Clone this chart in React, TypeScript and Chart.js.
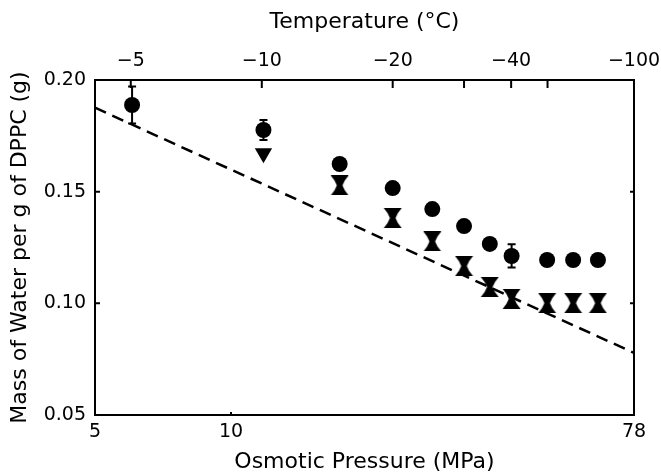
import React, { useEffect, useRef } from 'react';
import { Chart, registerables } from 'chart.js';

Chart.register(...registerables);

// Osmotic pressure (MPa) of each measurement (temperatures -5 ... -70 °C)
const pressures = [6.04, 11.8, 17.4, 22.8, 27.9, 32.8, 37.4, 41.8, 50.1, 57.2, 64.9];
const circleValues = [0.1888, 0.1776, 0.1624, 0.1516, 0.1422, 0.1346, 0.1266, 0.1212, 0.1194, 0.1194, 0.1194];
const circleErrors = [0.0083, 0.0045, 0, 0, 0, 0, 0, 0.0052, 0, 0, 0];
const triangleX = [11.8];
const triangleValues = [0.1672];
const hourglassX = [17.4, 22.8, 27.9, 32.8, 37.4, 41.8, 50.1, 57.2, 64.9];
const hourglassValues = [0.1528, 0.1382, 0.1277, 0.1167, 0.1073, 0.102, 0.1001, 0.1001, 0.1001];
const fitX = [5, 78];
const fitValues = [0.1876, 0.0778];

const pressureTicks = [5, 10, 78];
const valueTicks = [0.05, 0.1, 0.15, 0.2];
const temperatureTickPressures = [6.0, 11.7, 22.8, 32.8, 41.7, 50.2, 78];
const temperatureTickLabels = ['−5', '−10', '−20', '', '−40', '', '−100'];

function makeHourglass(): HTMLCanvasElement {
  const c = document.createElement('canvas');
  c.width = 19;
  c.height = 20;
  const g = c.getContext('2d')!;
  g.fillStyle = '#000';
  g.beginPath();
  g.moveTo(0.5, 0);
  g.lineTo(18.5, 0);
  g.quadraticCurveTo(14, 5, 12.3, 10);
  g.quadraticCurveTo(14, 15, 18.5, 20);
  g.lineTo(0.5, 20);
  g.quadraticCurveTo(5, 15, 6.7, 10);
  g.quadraticCurveTo(5, 5, 0.5, 0);
  g.closePath();
  g.fill();
  return c;
}

const framePlugin = {
  id: 'frameTicks',
  beforeDatasetsDraw(chart: any) {
    const { ctx, scales } = chart;
    const x = scales.x;
    const y = scales.y;
    ctx.save();
    ctx.strokeStyle = '#000';
    ctx.lineWidth = 2;
    circleValues.forEach((v, i) => {
      const e = circleErrors[i];
      if (!e) return;
      const px = x.getPixelForValue(pressures[i]);
      const top = y.getPixelForValue(v + e);
      const bot = y.getPixelForValue(v - e);
      ctx.beginPath();
      ctx.moveTo(px, top);
      ctx.lineTo(px, bot);
      ctx.moveTo(px - 4, top);
      ctx.lineTo(px + 4, top);
      ctx.moveTo(px - 4, bot);
      ctx.lineTo(px + 4, bot);
      ctx.stroke();
    });
    ctx.restore();
  },
  afterDraw(chart: any) {
    const { ctx, chartArea, scales } = chart;
    const { left, right, top, bottom } = chartArea;
    ctx.save();
    ctx.strokeStyle = '#000';
    ctx.lineWidth = 2;
    ctx.strokeRect(left, top, right - left, bottom - top);
    ctx.beginPath();
    temperatureTickPressures.forEach((p) => {
      const px = scales.x2.getPixelForValue(p);
      ctx.moveTo(px, top);
      ctx.lineTo(px, top + 8);
    });
    pressureTicks.forEach((p) => {
      const px = scales.x.getPixelForValue(p);
      ctx.moveTo(px, bottom);
      ctx.lineTo(px, bottom - 3);
    });
    valueTicks.forEach((v) => {
      const py = scales.y.getPixelForValue(v);
      ctx.moveTo(left, py);
      ctx.lineTo(left + 5, py);
      ctx.moveTo(right, py);
      ctx.lineTo(right - 4, py);
    });
    ctx.stroke();
    ctx.restore();
  },
};

export default function App() {
  const ref = useRef<HTMLCanvasElement | null>(null);

  useEffect(() => {
    if (!ref.current) return;
    Chart.defaults.font.family = "'DejaVu Sans', sans-serif";
    Chart.defaults.color = '#000';
    const hourglass = makeHourglass();

    const fixH = (h: number) => (s: any) => {
      s.height = h;
      s.paddingLeft = 0;
      s.paddingRight = 0;
      s.paddingTop = 0;
      s.paddingBottom = 0;
    };

    const chart = new Chart(ref.current, {
      type: 'scatter',
      data: {
        datasets: [
          {
            label: 'circles',
            data: pressures.map((p, i) => ({ x: p, y: circleValues[i] })),
            pointStyle: 'circle',
            pointRadius: 8,
            backgroundColor: '#000',
            borderColor: '#000',
            borderWidth: 0,
            showLine: false,
          },
          {
            label: 'triangle',
            data: triangleX.map((p, i) => ({ x: p, y: triangleValues[i] })),
            pointStyle: 'triangle',
            rotation: 180,
            pointRadius: 10,
            backgroundColor: '#000',
            borderColor: '#000',
            borderWidth: 0,
            showLine: false,
          },
          {
            label: 'hourglass',
            data: hourglassX.map((p, i) => ({ x: p, y: hourglassValues[i] })),
            pointStyle: hourglass as any,
            pointRadius: 9,
            backgroundColor: '#000',
            borderWidth: 0,
            showLine: false,
          },
          {
            label: 'fit',
            data: fitX.map((p, i) => ({ x: p, y: fitValues[i] })),
            showLine: true,
            borderColor: '#000',
            borderWidth: 2.5,
            borderDash: [12, 7],
            pointRadius: 0,
            fill: false,
          },
        ],
      },
      options: {
        responsive: false,
        animation: false,
        layout: { padding: { left: 0, top: 0, right: 27, bottom: 0 } },
        plugins: { legend: { display: false }, tooltip: { enabled: false } },
        scales: {
          x: {
            type: 'logarithmic',
            position: 'bottom',
            min: 5,
            max: 78,
            afterBuildTicks: (s: any) => {
              s.ticks = pressureTicks.map((v) => ({ value: v }));
            },
            afterFit: fixH(61),
            grid: { display: false, drawTicks: false },
            border: { display: false },
            ticks: {
              autoSkip: false,
              maxRotation: 0,
              padding: 6,
              font: { size: 19 },
              color: '#000',
              callback: (v: any) => String(v),
            },
            title: {
              display: true,
              text: 'Osmotic Pressure (MPa)',
              font: { size: 22 },
              color: '#000',
              padding: { top: 0, bottom: 1 },
            },
          },
          x2: {
            type: 'logarithmic',
            position: 'top',
            min: 5,
            max: 78,
            afterBuildTicks: (s: any) => {
              s.ticks = temperatureTickPressures.map((v) => ({ value: v }));
            },
            afterFit: fixH(80),
            grid: { display: false, drawTicks: false },
            border: { display: false },
            ticks: {
              autoSkip: false,
              maxRotation: 0,
              padding: 8,
              font: { size: 19 },
              color: '#000',
              callback: (_v: any, i: number) => temperatureTickLabels[i],
            },
            title: {
              display: true,
              text: 'Temperature (°C)',
              font: { size: 22 },
              color: '#000',
              padding: { top: 9, bottom: 0 },
            },
          },
          y: {
            type: 'linear',
            position: 'left',
            min: 0.05,
            max: 0.2,
            afterBuildTicks: (s: any) => {
              s.ticks = valueTicks.map((v) => ({ value: v }));
            },
            afterFit: (s: any) => {
              s.width = 95;
              s.paddingTop = 0;
              s.paddingBottom = 0;
            },
            grid: { display: false, drawTicks: false },
            border: { display: false },
            ticks: {
              padding: 9,
              font: { size: 19 },
              color: '#000',
              callback: (v: any) => Number(v).toFixed(2),
            },
            title: {
              display: true,
              text: 'Mass of Water per g of DPPC (g)',
              font: { size: 22 },
              color: '#000',
              padding: { top: 7, bottom: 0 },
            },
          },
        },
      } as any,
      plugins: [framePlugin],
    });
    return () => chart.destroy();
  }, []);

  return (
    <div style={{ position: 'fixed', left: 0, top: 0, width: 661, height: 476, background: '#fff' }}>
      <canvas ref={ref} width={661} height={476} style={{ display: 'block' }} />
    </div>
  );
}
